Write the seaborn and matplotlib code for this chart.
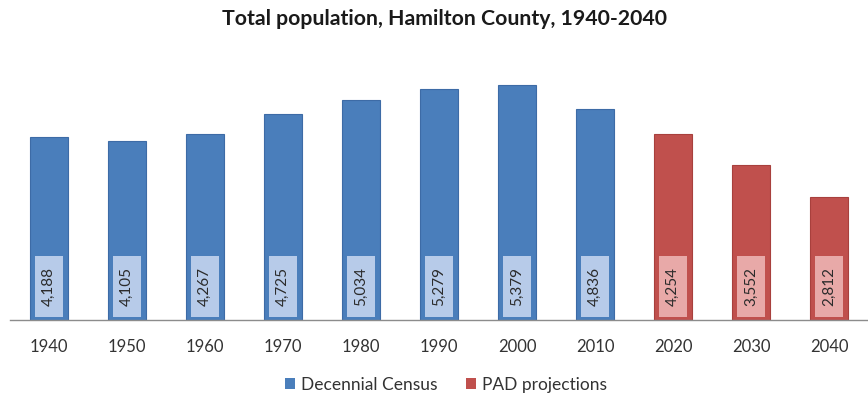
import matplotlib
matplotlib.use("Agg")
import matplotlib.pyplot as plt
from matplotlib.patches import Rectangle, Patch
import seaborn as sns
import pandas as pd

# Population counts by decade (census and projections)
years = ["1940", "1950", "1960", "1970", "1980", "1990", "2000", "2010", "2020", "2030", "2040"]
population = [4188, 4105, 4267, 4725, 5034, 5279, 5379, 4836, 4254, 3552, 2812]
series = ["Decennial Census"] * 8 + ["PAD projections"] * 3

df = pd.DataFrame({"year": years, "population": population, "series": series})

sns.set_theme(style="white")
plt.rcParams["font.family"] = ["Lato", "DejaVu Sans"]

bar_colors = {"Decennial Census": "#4a7ebb", "PAD projections": "#c0504d"}
edge_colors = {"Decennial Census": "#3d6ba6", "PAD projections": "#a8403d"}
box_colors = {"Decennial Census": "#b7cbe9", "PAD projections": "#e8a9a8"}

fig = plt.figure(figsize=(8.68, 3.96), dpi=100)
ax = fig.add_axes([10 / 868, 76 / 396, 858 / 868, 262 / 396])

sns.barplot(data=df, x="year", y="population", hue="series", dodge=False,
            palette=bar_colors, width=0.49, ax=ax, legend=False,
            saturation=1, linewidth=0)

# thin darker outline on each bar
for bar, s in zip(ax.patches, series):
    bar.set_edgecolor(edge_colors[s])
    bar.set_linewidth(0.8)

ax.set_ylim(0, 6000)
ax.set_xlim(-0.5, len(years) - 0.5)

# value labels in light boxes near the base of each bar
for i, (val, s) in enumerate(zip(population, series)):
    ax.add_patch(Rectangle((i - 0.185, 70), 0.37, 1400,
                           facecolor=box_colors[s], edgecolor="none", zorder=3))
    ax.text(i, 770, f"{val:,}", rotation=90, ha="center", va="center",
            fontsize=11, color="#2b2b2b", zorder=4)

# axis styling: only a baseline with ticks between categories
for side in ["top", "left", "right"]:
    ax.spines[side].set_visible(False)
ax.spines["bottom"].set_color("#8c8c8c")
ax.spines["bottom"].set_linewidth(1.0)
ax.set_yticks([])
ax.set_xlabel("")
ax.set_ylabel("")
ax.set_xticks(range(len(years)))
ax.set_xticklabels(years, fontsize=12, color="#333333")
ax.tick_params(axis="x", which="major", length=0, pad=14)
ax.set_xticks([i - 0.5 for i in range(len(years) + 1)], minor=True)
ax.tick_params(axis="x", which="minor", length=4, width=1, color="#8c8c8c", direction="out")

fig.text(445 / 868, 1 - 19 / 396, "Total population, Hamilton County, 1940-2040",
         ha="center", va="center", fontsize=15.3, fontweight="bold", color="#1a1a1a")

handles = [Patch(facecolor=bar_colors[k], edgecolor="none", label=k) for k in bar_colors]
fig.legend(handles=handles, loc="center", bbox_to_anchor=(446 / 868, 1 - 385 / 396),
           ncol=2, frameon=False, fontsize=12.5, handlelength=0.6, handleheight=0.6,
           handletextpad=0.35, columnspacing=1.6, labelcolor="#333333")

fig.savefig("out.png", dpi=100, facecolor="white")
